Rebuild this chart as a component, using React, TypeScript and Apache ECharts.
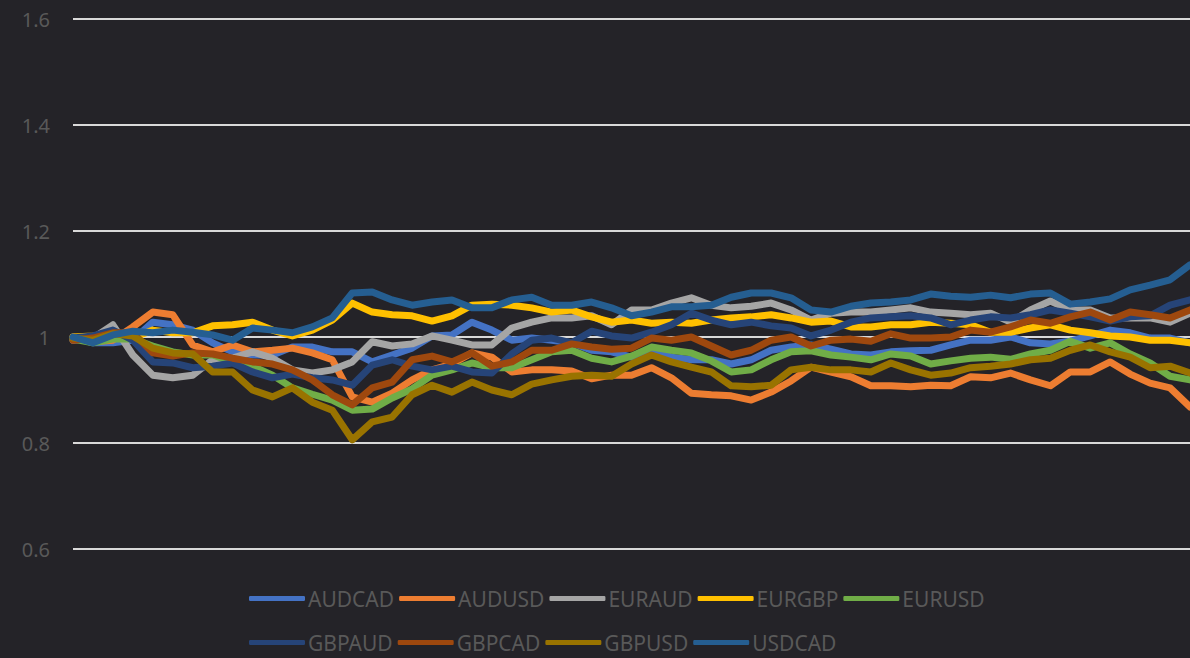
import React, { useEffect, useRef } from "react";
import * as echarts from "echarts";

const seriesNames = ["AUDCAD", "AUDUSD", "EURAUD", "EURGBP", "EURUSD", "GBPAUD", "GBPCAD", "GBPUSD", "USDCAD"];
const seriesColors = ["#4472C4", "#ED7D31", "#A5A5A5", "#FFC000", "#70AD47", "#264478", "#9E480E", "#997300", "#255E91"];
const yTicks = [0.6, 0.8, 1.0, 1.2, 1.4, 1.6];

const audcad = [1.000, 0.989, 0.989, 0.994, 1.028, 1.023, 1.013, 0.989, 0.972, 0.966, 0.966, 0.981, 0.981, 0.972, 0.972, 0.953, 0.966, 0.979, 1.002, 1.004, 1.028, 1.013, 0.994, 0.998, 0.994, 0.989, 0.975, 0.972, 0.962, 0.979, 0.962, 0.957, 0.957, 0.949, 0.957, 0.975, 0.981, 0.985, 0.977, 0.968, 0.966, 0.972, 0.974, 0.975, 0.985, 0.994, 0.994, 1.000, 0.989, 0.987, 0.992, 1.002, 1.013, 1.008, 0.998, 0.998, 0.989];
const audusd = [1.000, 0.991, 0.994, 1.019, 1.047, 1.042, 0.985, 0.972, 0.985, 0.972, 0.975, 0.979, 0.970, 0.957, 0.887, 0.877, 0.894, 0.919, 0.938, 0.949, 0.970, 0.962, 0.934, 0.938, 0.938, 0.936, 0.921, 0.928, 0.928, 0.942, 0.923, 0.894, 0.891, 0.889, 0.881, 0.896, 0.917, 0.943, 0.934, 0.925, 0.908, 0.908, 0.906, 0.909, 0.908, 0.925, 0.923, 0.932, 0.919, 0.908, 0.934, 0.934, 0.953, 0.930, 0.913, 0.904, 0.868];
const euraud = [0.994, 0.998, 1.023, 0.966, 0.928, 0.923, 0.928, 0.957, 0.960, 0.972, 0.960, 0.938, 0.932, 0.938, 0.953, 0.991, 0.983, 0.987, 1.002, 0.994, 0.985, 0.985, 1.017, 1.028, 1.036, 1.036, 1.040, 1.023, 1.051, 1.051, 1.064, 1.074, 1.060, 1.055, 1.058, 1.064, 1.051, 1.032, 1.045, 1.047, 1.047, 1.051, 1.055, 1.047, 1.045, 1.042, 1.045, 1.028, 1.051, 1.068, 1.051, 1.051, 1.036, 1.036, 1.036, 1.028, 1.045];
const eurgbp = [1.000, 1.002, 1.006, 0.998, 1.013, 1.008, 1.008, 1.021, 1.023, 1.028, 1.013, 1.002, 1.013, 1.032, 1.064, 1.047, 1.042, 1.040, 1.030, 1.040, 1.060, 1.062, 1.060, 1.055, 1.047, 1.051, 1.038, 1.028, 1.032, 1.026, 1.028, 1.026, 1.032, 1.036, 1.038, 1.042, 1.036, 1.028, 1.030, 1.019, 1.019, 1.023, 1.023, 1.028, 1.026, 1.023, 1.009, 1.009, 1.017, 1.023, 1.013, 1.008, 1.002, 1.000, 0.994, 0.994, 0.989];
const eurusd = [0.996, 0.989, 0.996, 0.996, 0.983, 0.972, 0.966, 0.966, 0.953, 0.945, 0.928, 0.904, 0.892, 0.881, 0.862, 0.864, 0.885, 0.902, 0.928, 0.938, 0.951, 0.942, 0.942, 0.957, 0.972, 0.975, 0.960, 0.953, 0.964, 0.981, 0.975, 0.970, 0.955, 0.934, 0.938, 0.957, 0.972, 0.974, 0.966, 0.962, 0.957, 0.968, 0.964, 0.949, 0.955, 0.960, 0.962, 0.958, 0.968, 0.975, 0.992, 0.979, 0.989, 0.968, 0.951, 0.926, 0.919];
const gbpaud = [0.998, 1.002, 1.013, 0.994, 0.953, 0.951, 0.942, 0.945, 0.951, 0.934, 0.923, 0.930, 0.923, 0.919, 0.909, 0.947, 0.957, 0.945, 0.938, 0.945, 0.934, 0.932, 0.968, 0.994, 0.998, 0.989, 1.011, 1.002, 0.998, 1.009, 1.023, 1.045, 1.032, 1.023, 1.028, 1.021, 1.017, 1.002, 1.013, 1.028, 1.036, 1.038, 1.040, 1.036, 1.023, 1.032, 1.038, 1.036, 1.042, 1.051, 1.045, 1.038, 1.030, 1.038, 1.040, 1.060, 1.070];
const gbpcad = [0.994, 0.998, 1.008, 1.008, 0.970, 0.964, 0.970, 0.968, 0.960, 0.953, 0.949, 0.938, 0.919, 0.891, 0.872, 0.904, 0.915, 0.957, 0.964, 0.953, 0.970, 0.945, 0.953, 0.975, 0.975, 0.987, 0.981, 0.977, 0.979, 0.998, 0.994, 1.000, 0.983, 0.966, 0.975, 0.994, 1.000, 0.983, 0.994, 0.996, 0.992, 1.006, 0.998, 0.998, 1.000, 1.013, 1.009, 1.019, 1.032, 1.026, 1.038, 1.047, 1.032, 1.047, 1.042, 1.036, 1.051];
const gbpusd = [0.998, 0.994, 1.006, 1.002, 0.979, 0.970, 0.968, 0.934, 0.934, 0.900, 0.887, 0.904, 0.877, 0.862, 0.806, 0.840, 0.849, 0.891, 0.909, 0.896, 0.915, 0.900, 0.891, 0.911, 0.919, 0.926, 0.928, 0.926, 0.949, 0.966, 0.953, 0.943, 0.934, 0.908, 0.906, 0.909, 0.938, 0.943, 0.938, 0.938, 0.934, 0.951, 0.938, 0.928, 0.932, 0.942, 0.945, 0.949, 0.957, 0.960, 0.975, 0.985, 0.972, 0.962, 0.942, 0.945, 0.932];
const usdcad = [1.000, 0.989, 1.004, 1.011, 1.008, 1.013, 1.009, 1.004, 0.994, 1.017, 1.013, 1.008, 1.019, 1.036, 1.083, 1.085, 1.070, 1.060, 1.066, 1.070, 1.055, 1.055, 1.070, 1.075, 1.060, 1.060, 1.066, 1.055, 1.040, 1.047, 1.057, 1.057, 1.060, 1.075, 1.083, 1.083, 1.074, 1.051, 1.047, 1.058, 1.064, 1.066, 1.070, 1.081, 1.077, 1.075, 1.079, 1.074, 1.081, 1.083, 1.062, 1.066, 1.072, 1.089, 1.098, 1.108, 1.136];

const seriesData = [audcad, audusd, euraud, eurgbp, eurusd, gbpaud, gbpcad, gbpusd, usdcad];
const categories = audcad.map((_, i) => String(i + 1));

export default function App() {
  const ref = useRef<HTMLDivElement>(null);
  useEffect(() => {
    document.body.style.margin = "0";
    document.body.style.background = "#242328";
    const chart = echarts.init(ref.current!, undefined, { renderer: "svg" });
    const legendText = { color: "#595959", fontSize: 21, fontFamily: "Noto Sans", padding: [0, 0, 0, -2] };
    const legendBase = {
      left: 249,
      orient: "horizontal" as const,
      icon: "roundRect",
      itemWidth: 56,
      itemHeight: 5,
      itemGap: 5,
      padding: 0,
      textStyle: legendText,
      selectedMode: false,
    };
    chart.setOption({
      animation: false,
      backgroundColor: "#242328",
      grid: { left: 73, right: 0, top: 19, height: 530 },
      xAxis: {
        type: "category",
        data: categories,
        boundaryGap: false,
        axisLine: { show: false },
        axisTick: { show: false },
        axisLabel: { show: false },
        splitLine: { show: false },
      },
      yAxis: {
        type: "value",
        min: yTicks[0],
        max: yTicks[yTicks.length - 1],
        interval: 0.2,
        axisLine: { show: false },
        axisTick: { show: false },
        axisLabel: {
          color: "#595959",
          fontSize: 20,
          fontFamily: "Noto Sans",
          margin: 23,
          formatter: (v: number) => String(Math.round(v * 10) / 10),
        },
        splitLine: { lineStyle: { color: "#d9d9d9", width: 2 } },
      },
      legend: [
        { ...legendBase, top: 588, data: seriesNames.slice(0, 5) },
        { ...legendBase, top: 632, data: seriesNames.slice(5) },
      ],
      series: seriesNames.map((name, i) => ({
        name,
        type: "line",
        data: seriesData[i],
        showSymbol: false,
        symbol: "none",
        color: seriesColors[i],
        lineStyle: { width: 7, color: seriesColors[i], cap: "round", join: "round" },
      })),
    });
    return () => chart.dispose();
  }, []);
  return <div ref={ref} style={{ width: 1190, height: 658 }} />;
}
